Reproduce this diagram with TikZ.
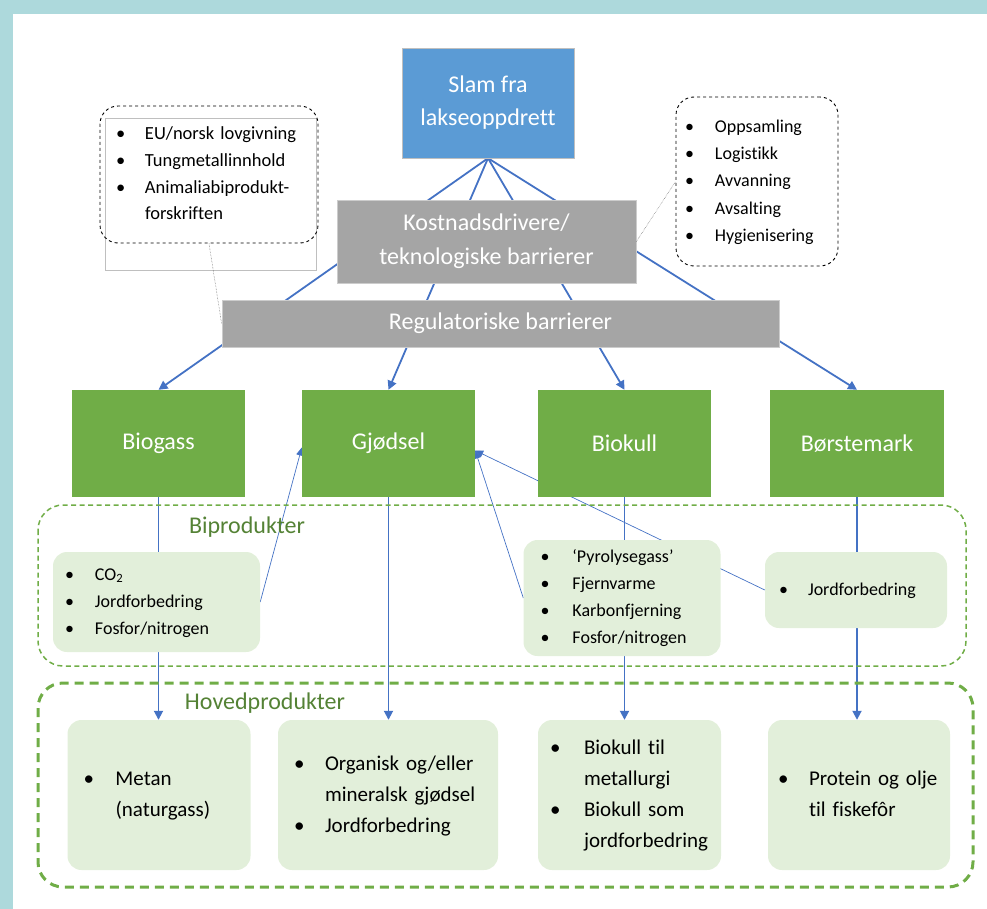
\documentclass[tikz,border=0pt]{standalone}
\usepackage{fontspec}
\setmainfont{Carlito}[Ligatures={TeX,NoCommon}]
\usetikzlibrary{arrows.meta,backgrounds}

\definecolor{frameteal}{HTML}{ADD9DC}
\definecolor{slamblue}{HTML}{5B9BD5}
\definecolor{bargray}{HTML}{A5A5A5}
\definecolor{prodgreen}{HTML}{70AD47}
\definecolor{palegreen}{HTML}{E2EFDA}
\definecolor{labelgreen}{HTML}{548235}
\definecolor{linkblue}{HTML}{4472C4}

% bullet list, #1 = width of the bullet column
\newcommand{\blist}[2]{\begin{tabular}{@{}p{#1}@{}l@{}}#2\end{tabular}}

\begin{document}
\begin{tikzpicture}[x=1pt,y=-1pt]
  \tikzset{ slambox/.style={fill=slamblue,draw=white!75!black,text=white,minimum width=172pt,minimum height=110pt,align=center,font=\fontsize{24}{33}\selectfont},
    barbox/.style={fill=bargray,draw=white!80!black,line width=0.8pt,text=white,align=center,font=\fontsize{24}{34}\selectfont},
    prodbox/.style={fill=prodgreen,text=white,minimum width=173pt,minimum height=107pt,font=\fontsize{24}{29}\selectfont},
    palebox/.style={fill=palegreen,rounded corners=14pt,inner ysep=0pt,align=left},
    notebox/.style={draw,dashed,line width=0.9pt,rounded corners=18pt,inner ysep=0pt,align=left},
    regionbox/.style={draw=prodgreen,rounded corners=25pt},
    grouplabel/.style={text=labelgreen,font=\fontsize{24}{29}\selectfont},
    flow/.style={draw=linkblue,line width=1.8pt,-{Triangle[width=9pt,length=9pt]}},
    sideflow/.style={draw=linkblue,line width=0.7pt,-{Triangle[width=7pt,length=8pt]}},
    callout/.style={densely dotted,line width=0.5pt,draw=black!60},
  }
  \useasboundingbox (0,0) rectangle (987,909);
  \fill[frameteal] (0,0) rectangle (987,14);
  \fill[frameteal] (0,0) rectangle (13,909);

  % groups
  \draw[regionbox,line width=1.5pt,dash pattern=on 5pt off 3.5pt] (38,505) rectangle (966,666);
  \draw[regionbox,line width=3pt,dash pattern=on 9pt off 6pt] (38,683) rectangle (973,887);
  \node[grouplabel] (biplabel) at (247,527) {Biprodukter};
  \node[grouplabel] (hplabel) at (265,703) {Hovedprodukter};

  \node[slambox] (slam) at (488,103) {Slam fra\\lakseoppdrett};
  \node[barbox,minimum width=299pt,minimum height=83pt] (kost) at (486.5,241.5) {Kostnadsdrivere/\\teknologiske barrierer};
  \node[barbox,minimum width=557pt,minimum height=47pt] (reg) at (500.5,323.5) {Regulatoriske barrierer};

  \node[prodbox] (biogass) at (158.5,443.5) {Biogass};
  \node[prodbox] (gjodsel) at (388.5,443.5) {Gjødsel};
  \node[prodbox] (biokull) at (624.5,443.5) {Biokull};
  \node[prodbox,minimum width=174pt] (borste) at (857,443.5) {Børstemark};

  % by-products
  \node[palebox,font=\fontsize{18}{27}\selectfont,inner xsep=12pt,text width=183pt,minimum height=100pt] (bip1) at (156.5,602)
    {\blist{30pt}{\textbullet & CO\textsubscript{2}\\ \textbullet & Jordforbedring\\ \textbullet & Fosfor/nitrogen}};
  \node[palebox,font=\fontsize{18}{27}\selectfont,inner xsep=17pt,text width=163pt,minimum height=116pt] (bip2) at (622,598)
    {\blist{32pt}{\textbullet & `Pyrolysegass'\\ \textbullet & Fjernvarme\\ \textbullet & Karbonfjerning\\ \textbullet & Fosfor/nitrogen}};
  \node[palebox,font=\fontsize{18}{27}\selectfont,inner xsep=14pt,text width=154pt,minimum height=76pt] (bip3) at (856,590)
    {\blist{29pt}{\textbullet & Jordforbedring}};

  % main products
  \node[palebox,font=\fontsize{21}{31}\selectfont,inner xsep=16pt,text width=151pt,minimum height=150pt] (hp1) at (159,795)
    {\blist{32pt}{\textbullet & Metan\\ & (naturgass)}};
  \node[palebox,font=\fontsize{21}{31}\selectfont,inner xsep=16pt,text width=188pt,minimum height=150pt] (hp2) at (388,795)
    {\blist{31pt}{\textbullet & Organisk og/eller\\ & mineralsk gjødsel\\ \textbullet & Jordforbedring}};
  \node[palebox,font=\fontsize{21}{31}\selectfont,inner xsep=12pt,text width=159pt,minimum height=150pt] (hp3) at (629.5,795)
    {\blist{34pt}{\textbullet & Biokull til\\ & metallurgi\\ \textbullet & Biokull som\\ & jordforbedring}};
  \node[palebox,font=\fontsize{21}{31}\selectfont,inner xsep=10pt,text width=162pt,minimum height=150pt] (hp4) at (859,795)
    {\blist{31pt}{\textbullet & Protein og olje\\ & til fiskefôr}};

  % notes
  \draw[draw=white!75!black,fill=white] (105,118) rectangle (316,270);
  \node[notebox,font=\fontsize{18.5}{26.7}\selectfont,inner xsep=16pt,text width=186pt,minimum height=137pt] (noteL) at (209,174.5)
    {\blist{29pt}{\textbullet & EU/norsk lovgivning\\ \textbullet & Tungmetallinnhold\\ \textbullet & Animaliabiprodukt-\\ & forskriften}};
  \node[notebox,font=\fontsize{18}{27.3}\selectfont,inner xsep=9pt,text width=144pt,minimum height=169pt] (noteR) at (757,181.5)
    {\blist{30pt}{\textbullet & Oppsamling\\ \textbullet & Logistikk\\ \textbullet & Avvanning\\ \textbullet & Avsalting\\ \textbullet & Hygienisering}};
  \draw[callout] (noteL.south) -- (reg.west);
  \draw[callout] (kost.east) -- (noteR.west);

  % connectors behind the boxes
  \begin{scope}[on background layer]
    \foreach \p in {biogass,gjodsel,biokull,borste}
      \draw[flow] (slam.south) -- (\p.north);
    \draw[flow] (biogass.south) -- (biogass.south |- hp1.north);
    \draw[flow] (gjodsel.south) -- (gjodsel.south |- hp2.north);
    \draw[flow] (biokull.south) -- (biokull.south |- hp3.north);
    \draw[flow] (borste.south) -- (borste.south |- hp4.north);
    \draw[sideflow] (bip1.east) -- ([yshift=-4pt]gjodsel.west);
    \draw[sideflow] (bip2.west) -- ([yshift=-7pt]gjodsel.east);
    \draw[sideflow] (bip3.west) -- ([yshift=-7pt]gjodsel.east);
  \end{scope}
\end{tikzpicture}
\end{document}
